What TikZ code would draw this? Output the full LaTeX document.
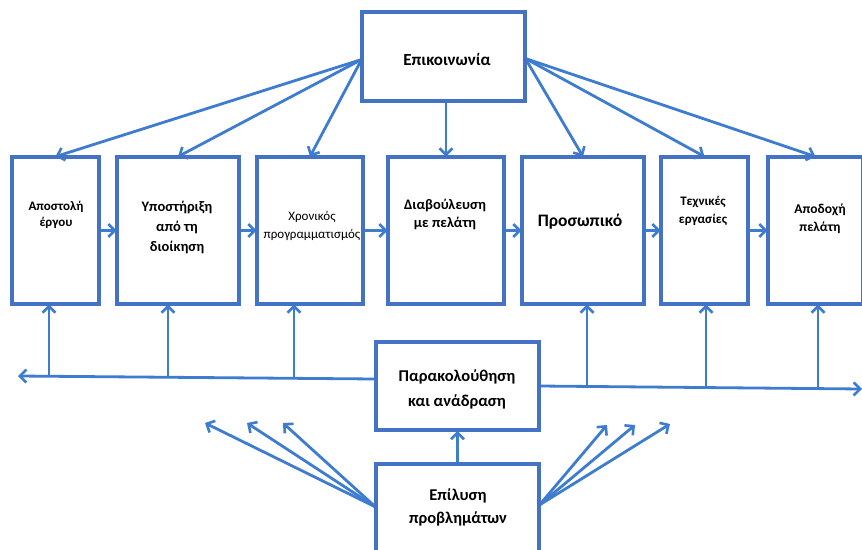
\documentclass[tikz,border=0pt]{standalone}
\usepackage{fontspec}
\setmainfont{Carlito}
\usetikzlibrary{arrows.meta,calc}
\definecolor{frame}{RGB}{68,114,196}
\definecolor{link}{RGB}{62,124,208}
\tikzset{
  box/.style={draw=frame, line width=2.8pt, fill=white, minimum width=#1, inner sep=0pt},
  stage/.style={box=#1, minimum height=145pt},
  hub/.style={box=161pt, minimum height=87pt},
  lbl/.style={align=center, inner sep=0pt, font=\bfseries},
  arr/.style={draw=link, line width=2.8pt,
    -{Straight Barb[length=6.5pt,width=13pt,line width=2.6pt]}},
}
\begin{document}
\begin{tikzpicture}[x=1pt,y=-1pt]
\useasboundingbox (0,0) rectangle (862,549);
\fill[white] (0,0) rectangle (862,549);
\clip (0,0) rectangle (862,549);

% top hub
\node[hub] (com) at (443.5,56.5) {};
\node[lbl, font=\bfseries\fontsize{17}{20}\selectfont] (tcom) at (447,59) {Επικοινωνία};

% row of stages
\node[stage=85pt]  (b1) at (55.5,230.5) {};
\node[stage=120pt] (b2) at (178,230.5) {};
\node[stage=104pt] (b3) at (310,230.5) {};
\node[stage=114pt] (b4) at (446,230.5) {};
\node[stage=120pt] (b5) at (583,230.5) {};
\node[stage=85pt]  (b6) at (704.5,230.5) {};
\node[stage=93pt]  (b7) at (815.5,230.5) {};

\node[lbl, font=\fontsize{13}{16}\selectfont\bfseries] (t1) at (56,215) {Αποστολή\\έργου};
\node[lbl, font=\fontsize{14.5}{20}\selectfont\bfseries] (t2) at (177,227) {Υποστήριξη\\από τη\\διοίκηση};
\node[lbl, font=\fontsize{13}{18}\selectfont] (t3) at (312,226) {Χρονικός\\προγραμματισμός};
\node[lbl, font=\fontsize{14.5}{18}\selectfont\bfseries] (t4) at (445,214) {Διαβούλευση\\με πελάτη};
\node[lbl, font=\fontsize{17.5}{20}\selectfont\bfseries] (t5) at (580,222) {Προσωπικό};
\node[lbl, font=\fontsize{13}{18}\selectfont\bfseries] (t6) at (703,211) {Τεχνικές\\εργασίες};
\node[lbl, font=\fontsize{13.5}{18}\selectfont\bfseries] (t7) at (820,219) {Αποδοχή\\πελάτη};

% lower hubs
\node[hub] (mon) at (457.5,386) {};
\node[lbl, font=\fontsize{16.5}{25}\selectfont\bfseries] (tmon) at (457,389) {Παρακολούθηση\\και ανάδραση};
\node[hub] (sol) at (457.5,508) {};
\node[lbl, font=\fontsize{16.5}{23}\selectfont\bfseries] (tsol) at (458,507) {Επίλυση\\προβλημάτων};

% communication fan-out
\foreach \b in {b1,b2,b3} \draw[arr] ($(com.west)+(0,3)$) -- (\b.north);
\draw[arr] (com.south -| b4.north) -- (b4.north);
\foreach \b in {b5,b6,b7} \draw[arr] ($(com.east)+(0,2)$) -- (\b.north);

% sequence between stages
\draw[arr] (b1.east) -- (b2.west);
\draw[arr] (b2.east) -- (b3.west);
\draw[arr] (b3.east) -- (b4.west);
\draw[arr] (b4.east) -- (b5.west);
\draw[arr] (b5.east) -- (b6.west);
\draw[arr] (b6.east) -- (b7.west);

% feedback bus
\coordinate (busL) at (18,376);
\coordinate (busR) at (862,389);
\coordinate (mL) at ($(mon.west)+(0,-7)$);
\draw[arr] (mL) -- (busL);
\draw[arr] (mon.east) -- (busR);
\coordinate (u1) at (49,376.7);
\coordinate (u2) at (168,377.4);
\coordinate (u3) at (294,378.1);
\coordinate (u5) at (587,387.4);
\coordinate (u6) at (706,388);
\coordinate (u7) at (818,388.6);
\foreach \u/\b in {u1/b1,u2/b2,u3/b3,u5/b5,u6/b6,u7/b7}
  \draw[arr] (\u) -- (\u |- \b.south);

% problem solving
\draw[arr] (sol.north) -- (mon.south);
\coordinate (f1) at (205,423);
\coordinate (f2) at (247,423);
\coordinate (f3) at (283,423);
\coordinate (f4) at (607,425);
\coordinate (f5) at (635,425);
\coordinate (f6) at (670,424);
\foreach \f in {f1,f2,f3} \draw[arr] ($(sol.west)+(0,-1)$) -- (\f);
\foreach \f in {f4,f5,f6} \draw[arr] ($(sol.east)+(0,-3)$) -- (\f);

% redraw frames over arrow roots
\foreach \n in {com,b1,b2,b3,b4,b5,b6,b7,mon,sol}
  \draw[draw=frame, line width=2.8pt] (\n.north west) rectangle (\n.south east);
\end{tikzpicture}
\end{document}
